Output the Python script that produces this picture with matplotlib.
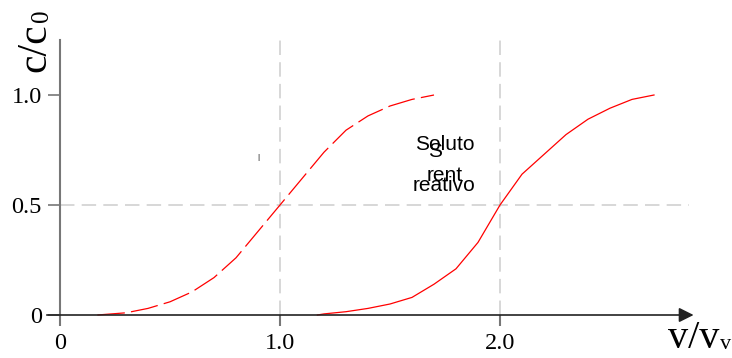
import numpy as np
import matplotlib.pyplot as plt

# breakthrough curves
x_left = [0.17, 0.3, 0.4, 0.5, 0.6, 0.7, 0.8, 0.9, 1.0, 1.1, 1.2, 1.3, 1.4, 1.5, 1.6, 1.7]
y_left = [0.0, 0.01, 0.03, 0.06, 0.105, 0.17, 0.26, 0.38, 0.5, 0.62, 0.74, 0.84, 0.905, 0.95, 0.98, 1.0]

x_right = [1.17, 1.2, 1.3, 1.4, 1.5, 1.6, 1.7, 1.8, 1.9, 2.0, 2.1, 2.2, 2.3, 2.4, 2.5, 2.6, 2.7]
y_right = [0.0, 0.005, 0.015, 0.03, 0.05, 0.08, 0.14, 0.21, 0.33, 0.5, 0.64, 0.73, 0.82, 0.89, 0.94, 0.98, 1.0]

x_ticks = [0, 1, 2]
x_ticklabels = ['0', '1.0', '2.0']
y_ticks = [0, 0.5, 1.0]
y_ticklabels = ['0', '0.5', '1.0']

vgrid = [1.0, 2.0]
hgrid = [0.5]

serif = 'Liberation Serif'
sans = 'Liberation Sans'

fig = plt.figure(figsize=(7.32, 3.58), dpi=100)
ax = fig.add_axes([0, 0, 1, 1])
ax.set_xlim(-60 / 220, 672 / 220)
ax.set_ylim(-43 / 220, 315 / 220)

# reference lines
ax.vlines(vgrid, 0, 1.25, colors='#d4d4d4', lw=1.3, linestyles=(0, (8, 4)), zorder=1)
ax.hlines(hgrid, 0, 2.86, colors='#d4d4d4', lw=1.3, linestyles=(0, (8, 4)), zorder=1)

# curves
ax.plot(x_left, y_left, color='#ff0000', lw=0.9, dashes=(22, 5), zorder=3)
ax.plot(x_right, y_right, color='#ff0000', lw=0.9, zorder=3)

# axes
for s in ['top', 'right', 'bottom']:
    ax.spines[s].set_visible(False)
ax.spines['left'].set_position(('data', 0))
ax.spines['left'].set_bounds(0, 1.25)
ax.spines['left'].set_color('#777777')
ax.spines['left'].set_linewidth(1.5)
ax.spines['bottom'].set_position(('data', 0))
ax.annotate('', xy=(2.88, 0), xytext=(-0.06, 0),
            arrowprops=dict(arrowstyle='-|>', color='#222222', lw=1.2,
                            mutation_scale=22, shrinkA=0, shrinkB=0), zorder=4)

ax.set_xticks(x_ticks)
ax.set_xticklabels(x_ticklabels, fontfamily=serif, fontsize=17.5)
ax.set_yticks(y_ticks)
ax.set_yticklabels(y_ticklabels, fontfamily=serif, fontsize=17.5)
ax.tick_params(axis='x', length=8, width=1.5, color='#777777', pad=5)
ax.tick_params(axis='y', length=9, width=1.2, color='#777777', pad=4)

# axis titles (main part plus a smaller subscript)
ax.text(-0.114, 1.214, 'c/c', fontfamily=serif, fontsize=30,
        rotation=90, ha='center', va='center')
ax.text(-0.08, 1.36, '0', fontfamily=serif, fontsize=18,
        rotation=90, ha='center', va='center')
ax.text(2.996, -0.105, 'v/v', fontfamily=serif, fontsize=29,
        ha='right', va='center')
ax.text(3.0, -0.136, 'v', fontfamily=serif, fontsize=16,
        ha='left', va='center')

# overlapping labels
ax.text(1.614, 0.773, 'Soluto', fontfamily=sans, fontsize=15, va='center')
ax.text(1.675, 0.745, 'S', fontfamily=sans, fontsize=15, va='center')
ax.text(1.668, 0.632, 'rent', fontfamily=sans, fontsize=15, va='center')
ax.text(1.605, 0.59, 'reativo', fontfamily=sans, fontsize=15, va='center')
ax.text(0.9, 0.718, '|', fontfamily=sans, fontsize=6, ha='center', va='center')

fig.savefig('out.png', dpi=100)
